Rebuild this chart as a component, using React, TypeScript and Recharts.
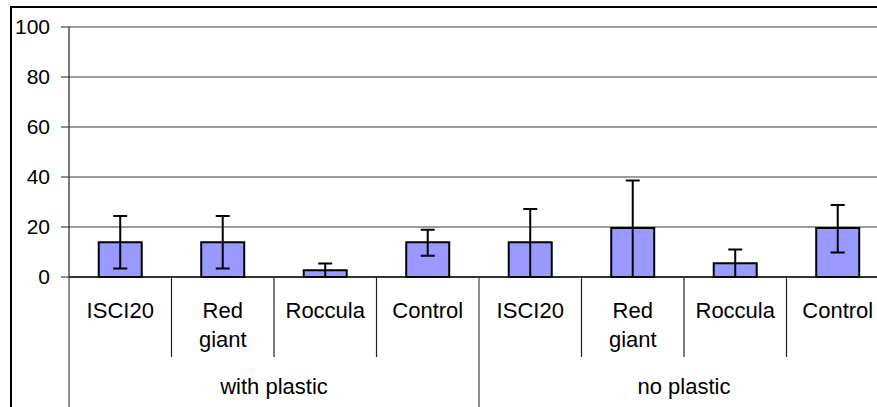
import React from "react";
import { BarChart, Bar, XAxis, YAxis, CartesianGrid, ErrorBar } from "recharts";

const categories = ["ISCI20", "Red\ngiant", "Roccula", "Control", "ISCI20", "Red\ngiant", "Roccula", "Control"];
const groups = ["with plastic", "no plastic"];
const values = [13.9, 13.9, 2.7, 13.9, 13.9, 19.6, 5.5, 19.6];
const errorsLow = [10.5, 10.5, 2.7, 5.4, 13.9, 19.6, 5.5, 9.8];
const errorsHigh = [10.5, 10.5, 2.7, 5.0, 13.3, 19.0, 5.5, 9.2];
const yTicks = [0, 20, 40, 60, 80, 100];

const GROUP_SIZE = 4;
const FONT = "'Liberation Sans', Arial, sans-serif";

const data = categories.map((c, i) => ({
  key: String(i),
  label: c,
  value: values[i],
  err: [errorsLow[i], errorsHigh[i]],
}));

const CatTick = (props: any) => {
  const { x, y, payload } = props;
  const idx: number = payload.index;
  const half: number = payload.offset ?? 51.25;
  const left = x - half;
  const groupStart = idx % GROUP_SIZE === 0;
  const lines = categories[idx].split("\n");
  return (
    <g>
      <line
        x1={left}
        x2={left}
        y1={y}
        y2={groupStart ? y + 132 : y + 80}
        stroke={groupStart ? "#444" : "#222"}
        strokeWidth={1.2}
      />
      {lines.map((t, k) => (
        <text
          key={k}
          x={x}
          y={y + 41 + k * 29}
          textAnchor="middle"
          fontFamily={FONT}
          fontSize={22}
          fill="#000"
        >
          {t}
        </text>
      ))}
      {groupStart && (
        <text
          x={left + half * GROUP_SIZE}
          y={y + 117}
          textAnchor="middle"
          fontFamily={FONT}
          fontSize={22}
          fill="#000"
        >
          {groups[Math.floor(idx / GROUP_SIZE)]}
        </text>
      )}
    </g>
  );
};

export default function App() {
  return (
    <div style={{ position: "absolute", left: 0, top: 0, width: 877, height: 407, overflow: "hidden", background: "#fff" }}>
      <div
        style={{
          position: "absolute",
          left: 10,
          top: 6,
          width: 1000,
          height: 1000,
          border: "2px solid #000",
          boxSizing: "border-box",
        }}
      />
      <div style={{ position: "absolute", left: 0, top: 0 }}>
        <BarChart
          width={890}
          height={407}
          data={data}
          margin={{ top: 27, right: 1, bottom: 0, left: 0 }}
          barCategoryGap="29%"
        >
          <CartesianGrid horizontal vertical={false} stroke="#3a3a3a" strokeWidth={1} />
          <YAxis
            type="number"
            domain={[0, 100]}
            ticks={yTicks}
            width={69}
            tickSize={8}
            tickMargin={11}
            axisLine={{ stroke: "#222", strokeWidth: 1.2 }}
            tickLine={{ stroke: "#222" }}
            tick={{ fontFamily: FONT, fontSize: 21, fill: "#000" }}
            interval={0}
          />
          <XAxis
            dataKey="key"
            type="category"
            height={130}
            interval={0}
            tickSize={0}
            tickMargin={0}
            tickLine={false}
            axisLine={{ stroke: "#111", strokeWidth: 1.4 }}
            tick={<CatTick />}
          />
          <Bar dataKey="value" fill="#9999FF" stroke="#000" strokeWidth={2} isAnimationActive={false}>
            <ErrorBar dataKey="err" width={7} stroke="#000" strokeWidth={2} direction="y" />
          </Bar>
        </BarChart>
      </div>
    </div>
  );
}
